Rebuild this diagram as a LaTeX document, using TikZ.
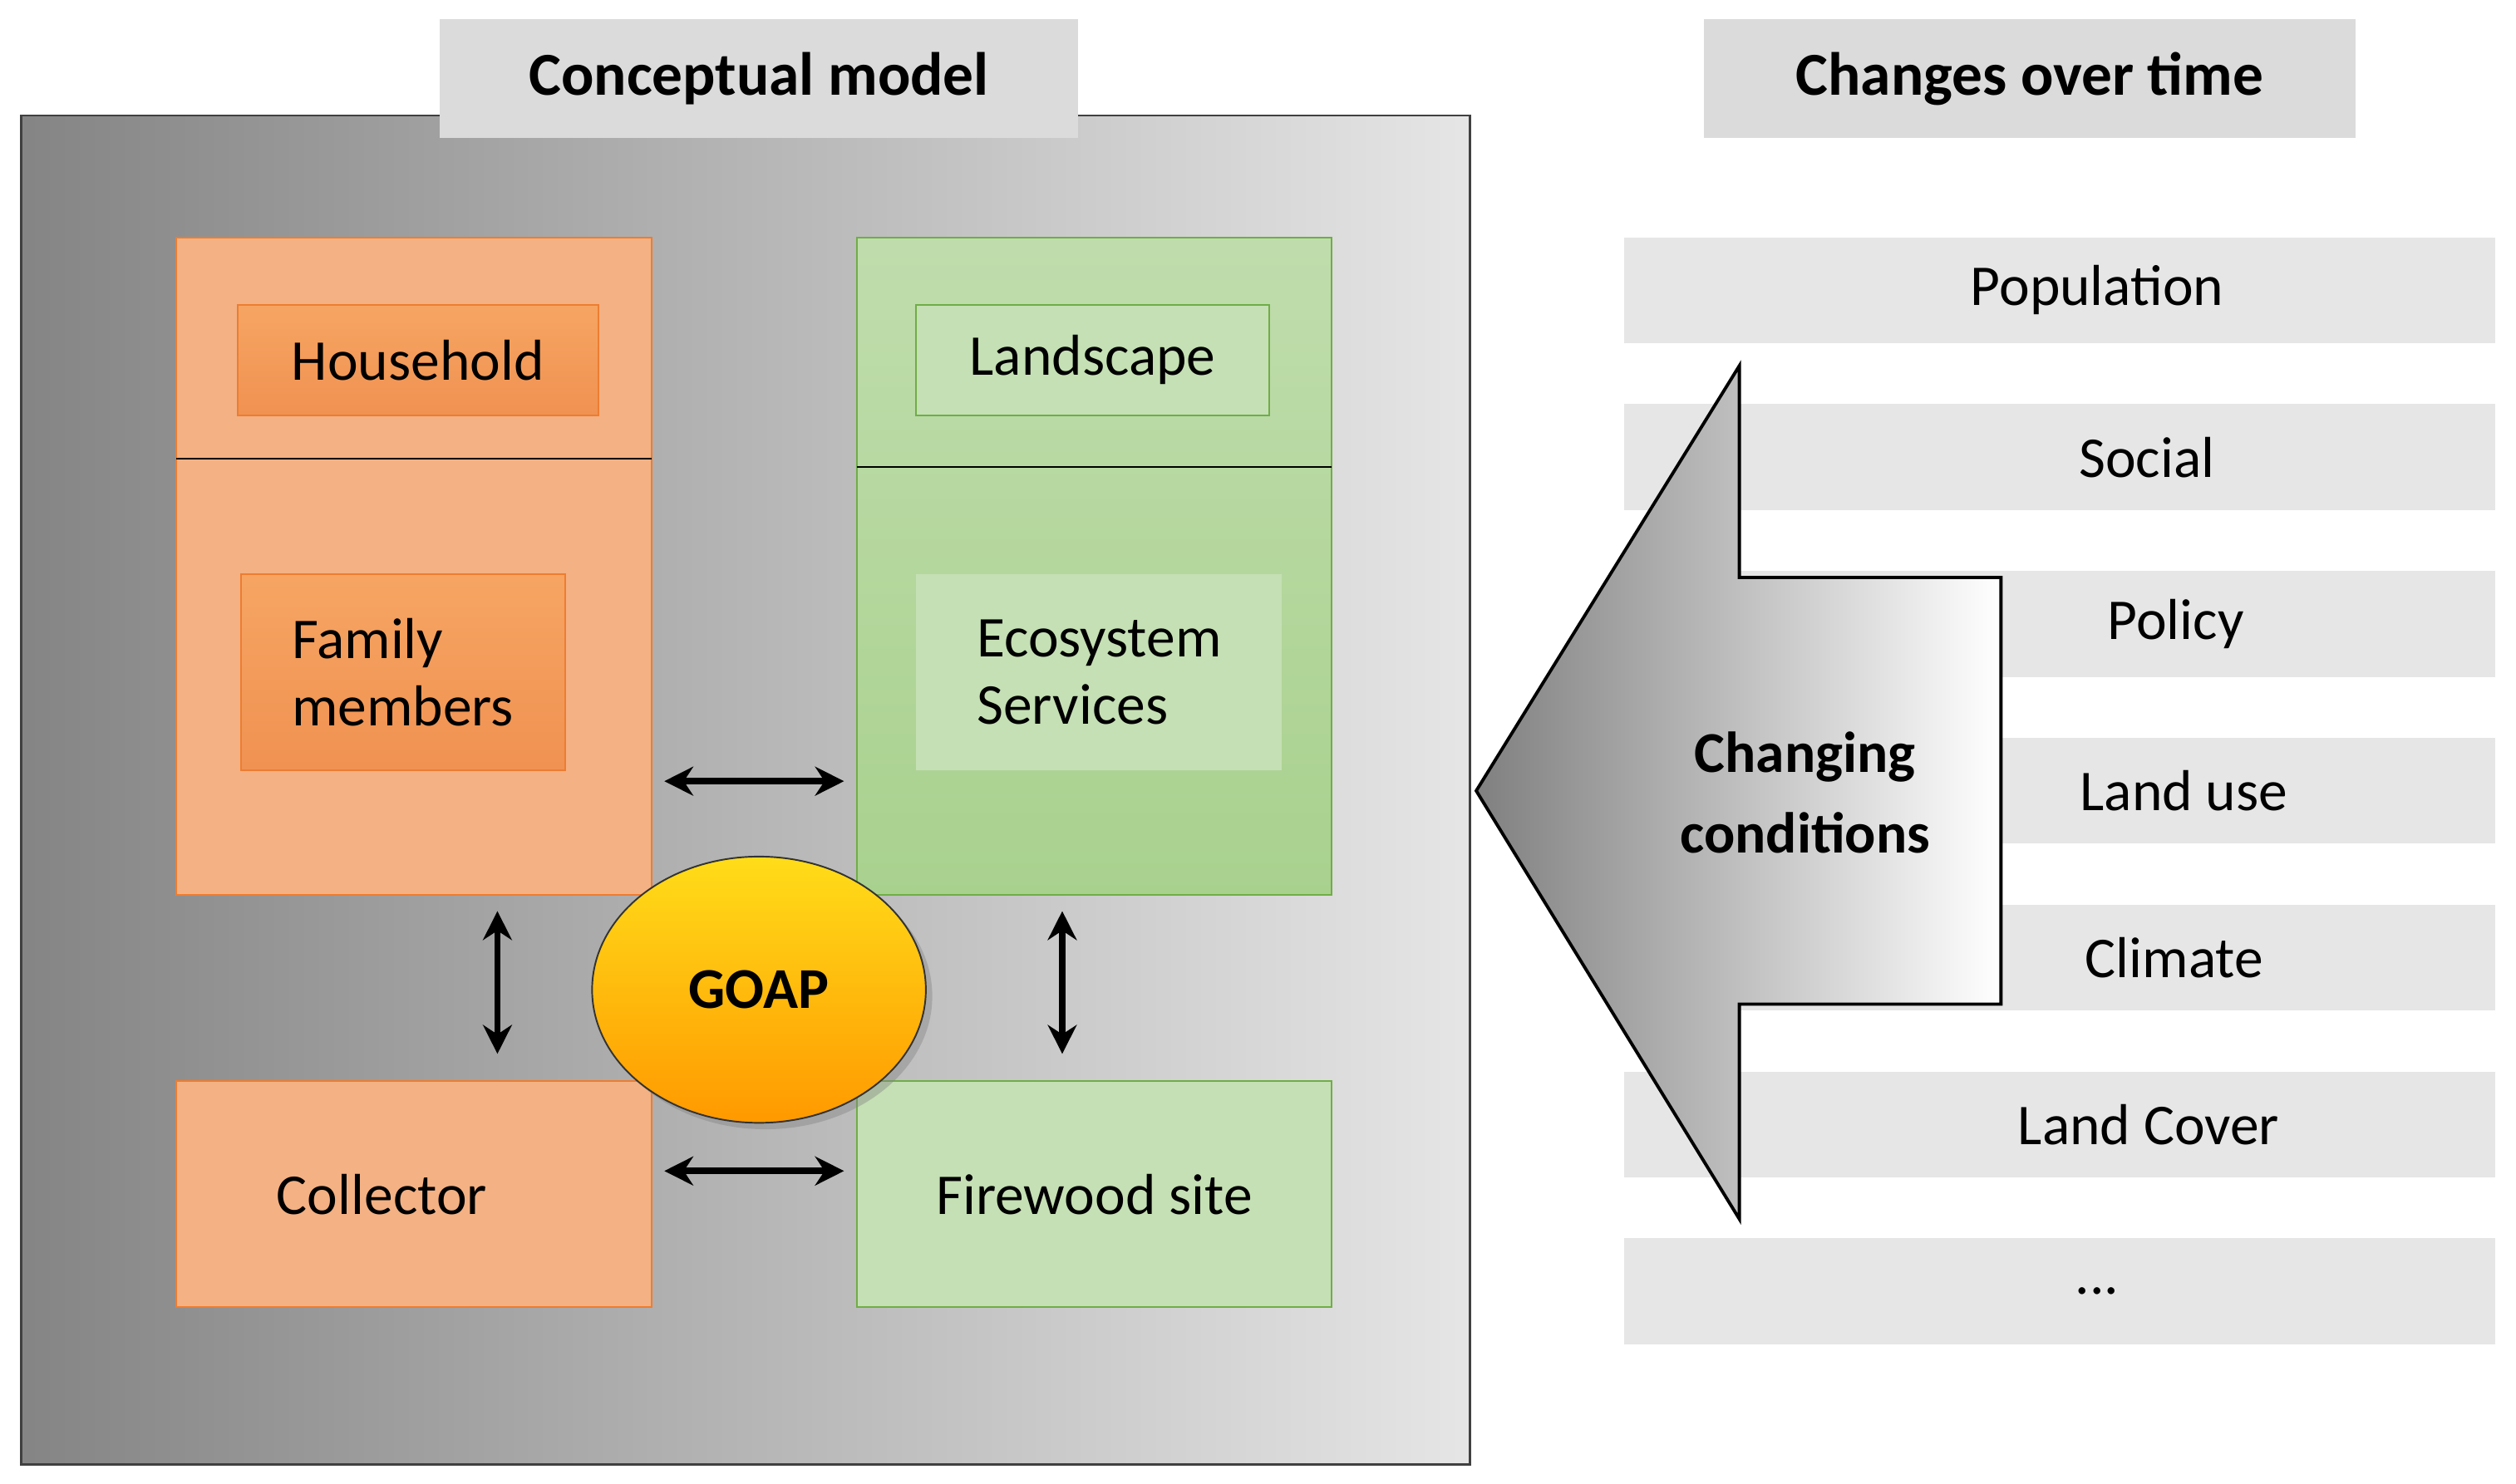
\documentclass[tikz,border=0pt]{standalone}
\usepackage{fontspec}
\setmainfont{Carlito}
\usetikzlibrary{arrows.meta,shadows,shapes.geometric}
\definecolor{org}{HTML}{F4B183}
\definecolor{orgb}{HTML}{ED7D31}
\definecolor{grn}{HTML}{A9D18E}
\definecolor{grnl}{HTML}{C5E0B4}
\definecolor{grnb}{HTML}{70AD47}
\definecolor{bar}{HTML}{E6E6E6}
\tikzset{
 txt/.style={font=\fontsize{36}{42}\selectfont, text=black},
 ttl/.style={fill=black!14, font=\fontsize{38}{44}\selectfont\bfseries, inner sep=0pt},
 obox/.style={fill=org, draw=orgb, line width=1pt},
 gbox/.style={draw=grnb, line width=1pt},
 oin/.style={draw=orgb, line width=1pt, top color=orange!25!org, bottom color=orgb!60!org},
 barst/.style={fill=bar},
 dbl/.style={{Stealth[length=18pt,width=18pt]}-{Stealth[length=18pt,width=18pt]}, line width=4pt},
}
\begin{document}
\begin{tikzpicture}[x=1pt,y=-1pt]
\useasboundingbox (0,0) rectangle (1568,925);
% outer box
\draw[left color=black!48, right color=black!10, draw=black!75, line width=1.5pt] (13,72) rectangle (916,913);
\node[ttl, minimum width=398pt, minimum height=74pt] (t1) at (473,49) {Conceptual model};
\node[ttl, minimum width=406pt, minimum height=74pt] (t2) at (1265,49) {Changes over time};
% orange
\draw[obox] (110,148) rectangle (406,558);
\draw[black, line width=1pt] (110,286) -- (406,286);
\node[oin, minimum width=225pt, minimum height=69pt, txt] (hh) at (260.5,224.5) {Household};
\node[oin, minimum width=202pt, minimum height=122pt, txt, align=left] (fm) at (251,419) {Family\\members};
% green
\draw[gbox, top color=grnl!80!grn, bottom color=grn] (534,148) rectangle (830,558);
\draw[black, line width=1pt] (534,291) -- (830,291);
\node[gbox, fill=grnl, minimum width=220pt, minimum height=69pt, txt] (ls) at (681,224.5) {Landscape};
\node[fill=grnl, minimum width=228pt, minimum height=122pt, txt, align=left] (es) at (685,419) {Ecosystem\\Services};
% bottom
\node[obox, minimum width=296pt, minimum height=141pt, txt] (col) at (258,744.5) {\hspace*{-40pt}Collector};
\node[gbox, fill=grnl, minimum width=296pt, minimum height=141pt, txt] (fw) at (682,744.5) {Firewood site};
% GOAP
\node[ellipse, draw=black!80, line width=1pt, minimum width=208pt, minimum height=166pt, top color=yellow!70!orange!90!white, bottom color=orange!80!yellow, drop shadow={shadow xshift=4pt, shadow yshift=-4pt, opacity=0.4}, font=\fontsize{36}{42}\selectfont\bfseries] (goap) at (473,617) {GOAP};
% arrows
\coordinate (a1) at (414,487); \coordinate (a2) at (526,487);
\coordinate (b1) at (414,730); \coordinate (b2) at (526,730);
\coordinate (c1) at (310,568); \coordinate (c2) at (310,657);
\coordinate (d1) at (662,568); \coordinate (d2) at (662,657);
\draw[dbl] (a1) -- (a2);
\draw[dbl] (b1) -- (b2);
\draw[dbl] (c1) -- (c2);
\draw[dbl] (d1) -- (d2);
% bars
\fill[barst] (1012,148) rectangle (1555,214);
\node[txt] (p1) at (1307,181) {Population};
\fill[barst] (1012,252) rectangle (1555,318);
\node[txt] (p2) at (1338,285) {Social};
\fill[barst] (1012,356) rectangle (1555,422);
\node[txt] (p3) at (1356,389) {Policy};
\fill[barst] (1012,460) rectangle (1555,526);
\node[txt] (p4) at (1361,493) {Land use};
\fill[barst] (1012,564) rectangle (1555,630);
\node[txt] (p5) at (1355,597) {Climate};
\fill[barst] (1012,668) rectangle (1555,734);
\node[txt] (p6) at (1339,701) {Land Cover};
\fill[barst] (1012,772) rectangle (1555,838);
\node[txt] (p7) at (1307,805) {...};
% big arrow
\draw[left color=black!50, right color=white, draw=black, line width=2pt, line join=miter]
 (1084,228) -- (920,493) -- (1084,760) -- (1084,626) -- (1247,626) -- (1247,360) -- (1084,360) -- cycle;
\node[font=\fontsize{36}{50}\selectfont\bfseries, align=center] (cc) at (1125,494) {Changing\\conditions};
\end{tikzpicture}
\end{document}
